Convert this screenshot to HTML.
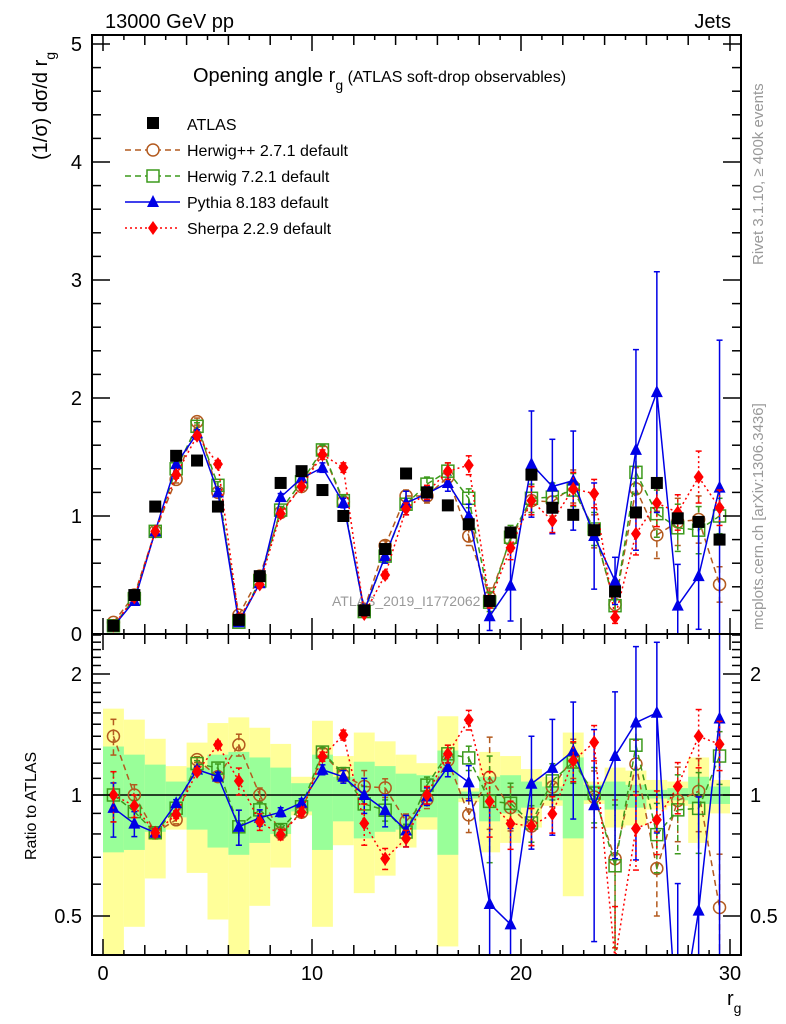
<!DOCTYPE html>
<html><head><meta charset="utf-8"><style>
html,body{margin:0;padding:0;background:#fff;width:786px;height:1024px;overflow:hidden;}
svg{font-family:"Liberation Sans",sans-serif;display:block;}
</style></head><body>
<svg id="c" width="786" height="1024" viewBox="0 0 786 1024" xmlns="http://www.w3.org/2000/svg"></svg>
<script>
const bins=[0.5,1.5,2.5,3.5,4.5,5.5,6.5,7.5,8.5,9.5,10.5,11.5,12.5,13.5,14.5,15.5,16.5,17.5,18.5,19.5,20.5,21.5,22.5,23.5,24.5,25.5,26.5,27.5,28.5,29.5];
const atlas=[0.07,0.33,1.08,1.51,1.47,1.08,0.12,0.49,1.28,1.38,1.22,1.00,0.20,0.72,1.36,1.20,1.09,0.93,0.28,0.86,1.35,1.07,1.01,0.88,0.36,1.03,1.28,0.98,0.95,0.80];
const herwigpp=[0.098,0.33,0.87,1.31,1.80,1.20,0.16,0.49,1.03,1.25,1.55,1.12,0.21,0.75,1.17,1.17,1.33,0.83,0.31,0.80,1.13,1.12,1.25,0.87,0.25,1.23,0.84,0.95,0.97,0.42];
const herwigppErr=[0.01,0.02,0.03,0.03,0.03,0.03,0.01,0.02,0.03,0.03,0.04,0.04,0.02,0.04,0.05,0.06,0.07,0.08,0.08,0.1,0.12,0.12,0.14,0.14,0.1,0.18,0.2,0.2,0.2,0.15];
const herwig7=[0.07,0.30,0.87,1.40,1.76,1.26,0.10,0.45,1.05,1.29,1.56,1.13,0.19,0.66,1.10,1.27,1.38,1.15,0.27,0.82,1.15,1.16,1.22,0.89,0.24,1.37,1.02,0.90,0.88,1.00];
const herwig7Err=[0.01,0.02,0.03,0.03,0.03,0.03,0.01,0.02,0.03,0.03,0.04,0.04,0.02,0.04,0.05,0.06,0.07,0.08,0.08,0.1,0.12,0.12,0.14,0.14,0.1,0.18,0.2,0.2,0.2,0.15];
const pythia=[0.065,0.28,0.87,1.44,1.70,1.20,0.10,0.43,1.16,1.32,1.41,1.11,0.20,0.66,1.11,1.19,1.28,1.00,0.15,0.41,1.44,1.25,1.30,0.83,0.45,1.56,2.05,0.24,0.49,1.24];
const pythiaErr=[0.01,0.02,0.02,0.03,0.03,0.03,0.01,0.02,0.03,0.03,0.04,0.04,0.02,0.06,0.1,0.06,0.07,0.1,0.12,0.3,0.45,0.4,0.42,0.45,0.2,0.85,1.02,0.35,0.45,1.25];
const sherpa=[0.07,0.31,0.87,1.35,1.68,1.44,0.13,0.42,1.02,1.25,1.52,1.41,0.17,0.50,1.06,1.20,1.38,1.43,0.27,0.73,1.13,0.96,1.23,1.19,0.14,0.85,1.11,1.03,1.33,1.07];
const sherpaErr=[0.01,0.02,0.02,0.03,0.03,0.03,0.01,0.02,0.03,0.03,0.04,0.04,0.02,0.03,0.05,0.06,0.07,0.08,0.05,0.1,0.12,0.1,0.14,0.12,0.05,0.18,0.2,0.15,0.22,0.15];
const yellowHi=[1.64,1.54,1.38,1.18,1.35,1.51,1.56,1.47,1.34,1.11,1.53,1.25,1.43,1.36,1.26,1.20,1.57,1.04,1.28,1.25,1.16,1.11,1.43,1.08,1.17,1.15,1.09,1.08,1.24,1.09];
const yellowLo=[0.30,0.47,0.62,0.82,0.64,0.49,0.40,0.53,0.66,0.89,0.47,0.75,0.57,0.63,0.74,0.82,0.42,0.96,0.72,0.76,0.83,0.94,0.56,0.95,0.83,0.84,0.92,0.94,0.76,0.90];
const greenHi=[1.32,1.26,1.19,1.08,1.17,1.26,1.28,1.24,1.17,1.07,1.26,1.11,1.21,1.18,1.13,1.12,1.29,1.02,1.11,1.12,1.08,1.05,1.24,1.06,1.08,1.06,1.03,1.04,1.11,1.05];
const greenLo=[0.72,0.73,0.81,0.88,0.82,0.74,0.71,0.76,0.80,0.91,0.73,0.86,0.78,0.81,0.82,0.88,0.71,0.98,0.86,0.90,0.93,0.97,0.78,0.97,0.92,0.93,0.98,0.97,0.95,0.95];
const mainTicks=[0,1,2,3,4,5];
const ratioTicks=[0.5,1,2];
const xTicks=[0,10,20,30];

const NS="http://www.w3.org/2000/svg";
const svg=document.getElementById('c');
const L=92,R=741,MT=35,MB=634,RT=634,RB=955;
const X=v=>103+v*20.9;
const Y=v=>634-v*118;
const RY=r=>795-121*Math.log2(r);
const clampY=(y,t,b)=>Math.min(b,Math.max(t,y));
function el(tag,attrs,parent){const e=document.createElementNS(NS,tag);for(const k in attrs)e.setAttribute(k,attrs[k]);(parent||svg).appendChild(e);return e;}
function txt(s,x,y,attrs,parent){const t=el('text',Object.assign({x:x,y:y,'font-size':20},attrs||{}),parent);t.textContent=s;return t;}

const bandG=el('g',{});


bins.forEach((b,i)=>{
  const x0=X(b-0.5),w=X(b+0.5)-x0;
  const t=clampY(RY(yellowHi[i]),RT,RB),bt=clampY(RY(yellowLo[i]),RT,RB);
  const y=el('rect',{x:x0,y:t,width:w,height:bt-t,fill:'#ffff99'},bandG);
  
  
});
bins.forEach((b,i)=>{
  const x0=X(b-0.5),w=X(b+0.5)-x0;
  const t=clampY(RY(greenHi[i]),RT,RB),bt=clampY(RY(greenLo[i]),RT,RB);
  const g=el('rect',{x:x0,y:t,width:w,height:bt-t,fill:'#99ff99'},bandG);
  
  
});
el('line',{x1:L,x2:R,y1:RY(1),y2:RY(1),stroke:'#000','stroke-width':1.5},bandG);

function marker(kind,x,y,color,parent){
  let m;
  if(kind==='square') m=el('rect',{x:x-6,y:y-6,width:12,height:12,fill:'#000'},parent);
  else if(kind==='circle') m=el('circle',{cx:x,cy:y,r:6,fill:'none',stroke:color,'stroke-width':1.5},parent);
  else if(kind==='osq') m=el('rect',{x:x-6,y:y-6,width:12,height:12,fill:'none',stroke:color,'stroke-width':1.5},parent);
  else if(kind==='tri') m=el('polygon',{points:`${x},${y-7} ${x-6},${y+5} ${x+6},${y+5}`,fill:color},parent);
  else m=el('polygon',{points:`${x},${y-7} ${x-5},${y} ${x},${y+7} ${x+5},${y}`,fill:color},parent);
  return m;
}
// clip a segment to [t,b] vertically
function clipSeg(x1,y1,x2,y2,t,b){
  let u0=0,u1=1;const dy=y2-y1;
  if(dy===0){if(y1<t||y1>b)return null;}
  else{
    let ua=(t-y1)/dy,ub=(b-y1)/dy;
    if(ua>ub){const s=ua;ua=ub;ub=s;}
    u0=Math.max(u0,ua);u1=Math.min(u1,ub);
    if(u0>=u1)return null;
  }
  return [x1+(x2-x1)*u0,y1+dy*u0,x1+(x2-x1)*u1,y1+dy*u1];
}
const series=[
 {name:'herwigpp',vals:herwigpp,err:herwigppErr,color:'#b35a1f',dash:'6,4',m:'circle'},
 {name:'herwig7',vals:herwig7,err:herwig7Err,color:'#3c9a1c',dash:'6,4',m:'osq'},
 {name:'pythia',vals:pythia,err:pythiaErr,color:'#0000e6',dash:'',m:'tri'},
 {name:'sherpa',vals:sherpa,err:sherpaErr,color:'#ff0000',dash:'2,3',m:'diamond'}
];
function drawSeries(panel){
  const t=panel==='main'?MT:RT,bt=panel==='main'?MB:RB;
  series.forEach(s=>{
    const g=el('g',{});
    
    
    const fy=panel==='main'?(i=>Y(s.vals[i])):(i=>RY(Math.max(0.05,s.vals[i]/atlas[i])));
    const path=[];
    for(let i=0;i<bins.length-1;i++){
      const c=clipSeg(X(bins[i]),fy(i),X(bins[i+1]),fy(i+1),t,bt);
      if(c)path.push(`M${c[0]},${c[1]}L${c[2]},${c[3]}`);
    }
    el('path',{d:path.join(''),fill:'none',stroke:s.color,'stroke-width':1.5,'stroke-dasharray':s.dash},g);
    bins.forEach((b,i)=>{
      let yh,yl;
      if(panel==='main'){yh=Y(s.vals[i]+s.err[i]);yl=Y(Math.max(0,s.vals[i]-s.err[i]));}
      else{yh=RY((s.vals[i]+s.err[i])/atlas[i]);yl=RY(Math.max(0.05,(s.vals[i]-s.err[i])/atlas[i]));}
      const ch=clampY(yh,t,bt),cl=clampY(yl,t,bt);
      if(cl>ch) el('line',{x1:X(b),x2:X(b),y1:ch,y2:cl,stroke:s.color,'stroke-width':1.5,'stroke-dasharray':s.dash},g);
      if(yh>=t&&yh<=bt) el('line',{x1:X(b)-3,x2:X(b)+3,y1:yh,y2:yh,stroke:s.color,'stroke-width':1.5},g);
      if(yl>=t&&yl<=bt) el('line',{x1:X(b)-3,x2:X(b)+3,y1:yl,y2:yl,stroke:s.color,'stroke-width':1.5},g);
      const y=fy(i);
      if(y>=t+2&&y<=bt-2){
        const m=marker(s.m,X(b),y,s.color,g);
        
        
      }
    });
  });
}
txt('ATLAS_2019_I1772062',332,606,{'font-size':14,fill:'#999'});
drawSeries('main');
const dg=el('g',{});


bins.forEach((b,i)=>{
  const m=marker('square',X(b),Math.min(Y(atlas[i]),MB-6),'#000',dg);
  
  
});
drawSeries('ratio');

el('rect',{x:L,y:MT,width:R-L,height:MB-MT,fill:'none',stroke:'#000','stroke-width':2});
el('rect',{x:L,y:RT,width:R-L,height:RB-RT,fill:'none',stroke:'#000','stroke-width':2});
for(let v=0;v<=30;v++){
  const len=v%10===0?16:(v%2===0?10:5);
  [[MB,-1],[MT,1],[RB,-1],[RT,1]].forEach(([y0,d])=>{
    el('line',{x1:X(v),x2:X(v),y1:y0,y2:y0+d*len,stroke:'#000','stroke-width':1.5});
  });
}
xTicks.forEach(v=>{const t=txt(String(v),X(v),980,{'text-anchor':'middle'});
  });
for(let k=0;k<=25;k++){
  const v=k*0.2,len=k%5===0?18:9;
  el('line',{x1:L,x2:L+len,y1:Y(v),y2:Y(v),stroke:'#000','stroke-width':1.5});
  el('line',{x1:R,x2:R-len,y1:Y(v),y2:Y(v),stroke:'#000','stroke-width':1.5});
}
mainTicks.forEach(v=>{const t=txt(String(v),82,Y(v)+7,{'text-anchor':'end'});
  });
[0.5,0.6,0.7,0.8,0.9,1,1.1,1.2,1.3,1.4,1.5,1.6,1.7,1.8,1.9,2,2.1,2.2,2.3,2.4,2.5].forEach(v=>{
  const major=ratioTicks.includes(v),len=major?18:9,y=RY(v);
  if(y<RT||y>RB)return;
  el('line',{x1:L,x2:L+len,y1:y,y2:y,stroke:'#000','stroke-width':1.5});
  el('line',{x1:R,x2:R-len,y1:y,y2:y,stroke:'#000','stroke-width':1.5});
});
ratioTicks.forEach(v=>{
  const t1=txt(String(v),82,RY(v)+7,{'text-anchor':'end'});
  
  const t2=txt(String(v),750,RY(v)+7,{'text-anchor':'start'});
  
});
</script>
<svg width="786" height="1024" style="position:absolute;left:0;top:0" xmlns="http://www.w3.org/2000/svg" font-family="Liberation Sans, sans-serif">
<text x="105" y="28" font-size="20">13000 GeV pp</text>
<text x="731" y="28" font-size="20" text-anchor="end">Jets</text>
<text x="193" y="82" font-size="20">Opening angle r<tspan font-size="14" dy="8">g</tspan><tspan dy="-8" font-size="16"> (ATLAS soft-drop observables)</tspan></text>
<g font-size="16">
 <rect x="147" y="117" width="12" height="12" fill="#000"/>
 <text x="187" y="130">ATLAS</text>
 <line x1="125" x2="180" y1="150" y2="150" stroke="#b35a1f" stroke-width="1.5" stroke-dasharray="6,4"/><circle cx="153" cy="150" r="6" fill="#fff" stroke="#b35a1f" stroke-width="1.5"/>
 <text x="187" y="156">Herwig++ 2.7.1 default</text>
 <line x1="125" x2="180" y1="176" y2="176" stroke="#3c9a1c" stroke-width="1.5" stroke-dasharray="6,4"/><rect x="147" y="170" width="12" height="12" fill="#fff" stroke="#3c9a1c" stroke-width="1.5"/>
 <text x="187" y="182">Herwig 7.2.1 default</text>
 <line x1="125" x2="180" y1="202" y2="202" stroke="#0000e6" stroke-width="1.5"/><polygon points="153,195 147,207 159,207" fill="#0000e6"/>
 <text x="187" y="208">Pythia 8.183 default</text>
 <line x1="125" x2="180" y1="228" y2="228" stroke="#ff0000" stroke-width="1.5" stroke-dasharray="2,3"/><polygon points="153,221 148,228 153,235 158,228" fill="#ff0000"/>
 <text x="187" y="234">Sherpa 2.2.9 default</text>
</g>
<text transform="translate(47,160) rotate(-90)" font-size="20">(1/σ) dσ/d r<tspan font-size="14" dy="8">g</tspan></text>
<text transform="translate(36,860) rotate(-90)" font-size="16">Ratio to ATLAS</text>
<text x="727" y="1005" font-size="20">r<tspan font-size="14" dy="8">g</tspan></text>
<text transform="translate(763,265) rotate(-90)" font-size="15" fill="#999">Rivet 3.1.10, ≥ 400k events</text>
<text transform="translate(763,630) rotate(-90)" font-size="15" fill="#999">mcplots.cern.ch [arXiv:1306.3436]</text>
</svg>
</body></html>
